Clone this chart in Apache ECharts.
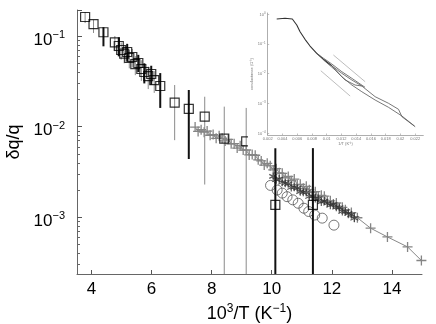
<!DOCTYPE html>
<html>
<head>
<meta charset="utf-8">
<script src="https://cdn.jsdelivr.net/npm/echarts@6/dist/echarts.min.js"></script>
<style>
  html, body { margin: 0; padding: 0; background: #fff; }
  #chart { width: 436px; height: 324px; }
</style>
</head>
<body>
<div id="chart"></div>
<script>
// open squares with error bars (sqDark = 1 -> thick black bar, 0 -> thin grey bar), lo = 0 runs off the axis
var sqX = [3.79, 4.07, 4.40, 4.78, 4.91, 4.99, 5.09, 5.19, 5.26, 5.36, 5.46, 5.56, 5.66, 5.76, 5.89, 5.99, 6.09, 6.29, 6.77, 7.24, 7.77, 8.42, 9.15, 10.12, 11.37];
var sqY = [0.162, 0.1355, 0.110, 0.0852, 0.0776, 0.0701, 0.0641, 0.0666, 0.0572, 0.0587, 0.0491, 0.0504, 0.0433, 0.0401, 0.0362, 0.0381, 0.0327, 0.0281, 0.0184, 0.0157, 0.0129, 0.00738, 0.00687, 0.00137, 0.00137];
var sqLo = [0.139, 0.108, 0.077, 0.068, 0.0597, 0.055, 0.050, 0.052, 0.044, 0.045, 0.037, 0.040, 0.032, 0.030, 0.026, 0.029, 0.0236, 0.0161, 0.0071, 0.0044, 0.0023, 0, 0, 0, 0];
var sqHi = [0.184, 0.151, 0.125, 0.100, 0.0968, 0.085, 0.078, 0.082, 0.070, 0.072, 0.060, 0.062, 0.054, 0.050, 0.046, 0.047, 0.041, 0.039, 0.0288, 0.0254, 0.0214, 0.01663, 0.0161, 0.00578, 0.0058];
var sqDark = [0, 0, 1, 0, 1, 0, 0, 1, 0, 0, 0, 1, 0, 1, 0, 1, 0, 1, 0, 1, 0, 0, 0, 1, 1];

// grey crosses (dense band + sparse tail joined by a line)
var crossX = [7.45, 7.55, 7.65, 7.75, 7.85, 7.95, 8.05, 8.15, 8.25, 8.35, 8.45, 8.55, 8.65, 8.75, 8.85, 8.95, 9.05, 9.15, 9.25, 9.35, 9.45, 9.55, 9.65, 9.75, 9.85, 9.95,
  10.05, 10.15, 10.25, 10.35, 10.45, 10.55, 10.65, 10.75, 10.85, 10.95, 11.05, 11.15, 11.25, 11.35, 11.45, 11.55, 11.65, 11.75, 11.85, 11.95,
  12.05, 12.15, 12.25, 12.35, 12.45, 12.55, 12.65, 12.75, 12.85, 13.29, 13.85, 14.52, 14.98];
var crossY = [0.00989, 0.00887, 0.00925, 0.00869, 0.00895, 0.00804, 0.00818, 0.00743, 0.00793, 0.00745, 0.00697, 0.00724, 0.00647, 0.00650, 0.00581, 0.00618, 0.00552, 0.00553, 0.00488, 0.00492, 0.00484, 0.00431, 0.00419, 0.00377, 0.00394, 0.00370,
  0.00333, 0.00344, 0.00310, 0.00306, 0.00273, 0.00282, 0.00254, 0.00264, 0.00230, 0.00231, 0.00209, 0.00220, 0.00202, 0.00189, 0.00192, 0.00168, 0.00175, 0.00171, 0.00151, 0.00152,
  0.00140, 0.00144, 0.00126, 0.00129, 0.00121, 0.00111, 0.00113, 0.00101, 0.000989, 0.000759, 0.000608, 0.000472, 0.000334];

// dark asterisks
var starX = [10.05, 10.15, 10.25, 10.35, 10.45, 10.55, 10.65, 10.75, 10.85, 10.95, 11.05, 11.15, 11.25, 11.35, 11.45, 11.55, 11.65, 11.75, 11.85, 11.95, 12.05, 12.15, 12.25, 12.35, 12.45, 12.55, 12.65, 12.75];
var starY = [0.00283, 0.00260, 0.00265, 0.00244, 0.00238, 0.00234, 0.00213, 0.00215, 0.00210, 0.00192, 0.00189, 0.00188, 0.00170, 0.00171, 0.00161, 0.00161, 0.00148, 0.00151, 0.00143, 0.00136, 0.00139, 0.00129, 0.00128, 0.00116, 0.00116, 0.00110, 0.00107, 0.000979];

// open circles
var cirX = [9.96, 10.18, 10.35, 10.51, 10.70, 10.88, 11.07, 11.23, 11.43, 11.68, 12.07];
var cirY = [0.00225, 0.00200, 0.00185, 0.00169, 0.00156, 0.00143, 0.00126, 0.00116, 0.00106, 0.00098, 0.00082];

// axis ticks
var xTicks = [4, 6, 8, 10, 12, 14];
var yTickExp = [-3, -2, -1];

// inset: conductance vs 1/T
var insTrunkX = [0.00322, 0.00435, 0.00534, 0.00561, 0.00594, 0.00639, 0.00706, 0.00774, 0.00865, 0.00955, 0.01069];
var insTrunkY = [0.679, 0.718, 0.679, 0.596, 0.428, 0.255, 0.1416, 0.0843, 0.0480, 0.0302, 0.0184];
var insAX = [0.01069, 0.01205, 0.01341, 0.01476, 0.01657, 0.01838, 0.01974, 0.0202, 0.0220];
var insAY = [0.0184, 0.01023, 0.00610, 0.00384, 0.00168, 0.00101, 0.000634, 0.000358, 0.000165];
var insBX = [0.01069, 0.01205, 0.01341, 0.01476, 0.01657, 0.01838, 0.0202, 0.0219];
var insBY = [0.0184, 0.00787, 0.00414, 0.00247, 0.00130, 0.000740, 0.000378, 0.000175];
var insCX = [0.00865, 0.00955, 0.01069, 0.01205, 0.01341, 0.0152];
var insCY = [0.0480, 0.0330, 0.0210, 0.01159, 0.00695, 0.00347];
var insDX = [0.00955, 0.01114, 0.0125, 0.01385, 0.01476];
var insDY = [0.0290, 0.01321, 0.00610, 0.00414, 0.00384];
var guide1X = [0.01091, 0.01521];
var guide1Y = [0.0421, 0.00535];
var guide2X = [0.0092, 0.01318];
var guide2Y = [0.0125, 0.00177];
var insXTicks = [0.002, 0.004, 0.006, 0.008, 0.01, 0.012, 0.014, 0.016, 0.018, 0.02, 0.022];
var insYTickExp = [-4, -3, -2, -1, 0];

var FONT = '"Liberation Sans", Arial, Helvetica, sans-serif';
var yMin = -3.625, yMax = -0.713;
var xMin = 3.52, xMax = 15.0;

function pairs(xs, ys) {
  return xs.map(function (x, i) { return [x, Math.log10(ys[i])]; });
}

// log minor ticks 2..9 of each decade
var minorY = [];
for (var e = -4; e <= -1; e++) {
  for (var k = 2; k <= 9; k++) {
    var t = e + Math.log10(k);
    if (t > yMin && t < yMax) minorY.push(t);
  }
}

var barData = sqX.map(function (x, i) {
  var lo = sqLo[i] > 0 ? Math.log10(sqLo[i]) : yMin - 0.5;
  return [x, lo, Math.log10(sqHi[i]), sqDark[i]];
});

var supRich = {
  b: { fontSize: 17, fontFamily: FONT, color: '#000', lineHeight: 19, verticalAlign: 'bottom' },
  s: { fontSize: 11, fontFamily: FONT, color: '#000', lineHeight: 11, verticalAlign: 'top' }
};
var tinyRich = {
  b: { fontSize: 4, fontFamily: FONT, color: '#777', lineHeight: 5, verticalAlign: 'bottom' },
  s: { fontSize: 3, fontFamily: FONT, color: '#777', lineHeight: 3, verticalAlign: 'top' }
};

var PLUS = 'path://M0,5L10,5M5,0L5,10';
var STAR = 'path://M5,0L5,10M0.67,2.5L9.33,7.5M0.67,7.5L9.33,2.5';

var insLine = function (xs, ys, color, w) {
  return {
    type: 'line', xAxisIndex: 1, yAxisIndex: 2, data: pairs(xs, ys),
    showSymbol: false, symbol: 'none', z: 12, silent: true,
    lineStyle: { color: color, width: w }
  };
};

var option = {
  animation: false,
  backgroundColor: '#fff',
  grid: [
    { left: 77, right: 14, top: 10, bottom: 50, outerBoundsMode: 'none' },
    { left: 267.7, top: 13, width: 155.6, height: 122, outerBoundsMode: 'none' }
  ],
  graphic: [
    { type: 'rect', shape: { x: 248, y: 0, width: 188, height: 147 }, style: { fill: '#fff' }, z: 10, silent: true }
  ],
  xAxis: [
    {
      gridIndex: 0, type: 'value', min: xMin, max: xMax,
      axisLine: { onZero: false, lineStyle: { color: '#666', width: 1 } },
      axisTick: { inside: true, length: 4, customValues: xTicks, lineStyle: { color: '#555' } },
      axisLabel: { customValues: xTicks, margin: 7, color: '#000', fontSize: 17, fontFamily: FONT },
      splitLine: { show: false },
      name: '{b|10}{s|3}{b|/T (K}{s|\u22121}{b|)}',
      nameLocation: 'middle', nameGap: 24,
      nameTextStyle: { rich: { b: { fontSize: 18, fontFamily: FONT, color: '#000', lineHeight: 20, verticalAlign: 'bottom' }, s: { fontSize: 12, fontFamily: FONT, color: '#000', lineHeight: 12, verticalAlign: 'top' } } }
    },
    {
      gridIndex: 1, type: 'value', min: 0.002, max: 0.0231, z: 11,
      axisLine: { onZero: false, lineStyle: { color: '#999', width: 0.8 } },
      axisTick: { inside: true, length: 1.5, customValues: insXTicks, lineStyle: { color: '#999', width: 0.6 } },
      axisLabel: {
        customValues: insXTicks, margin: 1.5, color: '#777', fontSize: 4, fontFamily: FONT,
        formatter: function (v) { return String(+v.toFixed(3)); }
      },
      splitLine: { show: false },
      name: '1/T (K\u207b\u00b9)', nameLocation: 'middle', nameGap: 6,
      nameTextStyle: { fontSize: 4, color: '#777', fontFamily: FONT }
    }
  ],
  yAxis: [
    {
      gridIndex: 0, type: 'value', position: 'left', min: yMin, max: yMax,
      axisLine: { onZero: false, lineStyle: { color: '#666', width: 1 } },
      axisTick: { inside: true, length: 5, customValues: yTickExp.concat([yMax]), lineStyle: { color: '#555' } },
      axisLabel: {
        customValues: yTickExp, margin: 12, padding: [6, 0, 0, 0],
        formatter: function (v) { return '{b|10}{s|\u2212' + Math.abs(Math.round(v)) + '}'; },
        rich: supRich
      },
      splitLine: { show: false },
      name: '\u03b4q/q', nameLocation: 'middle', nameGap: 52, nameRotate: 90,
      nameTextStyle: { fontSize: 18, fontFamily: FONT, color: '#000' }
    },
    {
      gridIndex: 0, type: 'value', position: 'left', offset: 0, min: yMin, max: yMax,
      axisLine: { show: false, onZero: false },
      axisTick: { inside: true, length: 3, customValues: minorY, lineStyle: { color: '#666' } },
      axisLabel: { show: false },
      splitLine: { show: false }
    },
    {
      gridIndex: 1, type: 'value', position: 'left', min: -4.06, max: 0.034, z: 11,
      axisLine: { onZero: false, lineStyle: { color: '#999', width: 0.8 } },
      axisTick: { inside: true, length: 1.5, customValues: insYTickExp, lineStyle: { color: '#999', width: 0.6 } },
      axisLabel: {
        customValues: insYTickExp, margin: 2,
        formatter: function (v) { return '{b|10}{s|' + (v < 0 ? '\u2212' + Math.abs(Math.round(v)) : '0') + '}'; },
        rich: tinyRich
      },
      splitLine: { show: false },
      name: 'conductance (\u03a9\u207b\u00b9)', nameLocation: 'middle', nameGap: 9, nameRotate: 90,
      nameTextStyle: { fontSize: 4, color: '#777', fontFamily: FONT }
    }
  ],
  series: [
    {
      type: 'line', xAxisIndex: 0, yAxisIndex: 0, data: pairs(crossX, crossY),
      symbol: PLUS, symbolSize: 10, showAllSymbol: true, z: 2, silent: true,
      lineStyle: { color: '#888', width: 1 },
      itemStyle: { color: 'rgba(0,0,0,0)', borderColor: '#858585', borderWidth: 1.3 }
    },
    {
      type: 'scatter', xAxisIndex: 0, yAxisIndex: 0, data: pairs(starX, starY),
      symbol: STAR, symbolSize: 8, z: 3, silent: true,
      itemStyle: { color: 'rgba(0,0,0,0)', borderColor: '#333', borderWidth: 1.2 }
    },
    {
      type: 'scatter', xAxisIndex: 0, yAxisIndex: 0, data: pairs(cirX, cirY),
      symbol: 'circle', symbolSize: 10, z: 4, silent: true,
      itemStyle: { color: 'rgba(0,0,0,0)', borderColor: '#555', borderWidth: 1 }
    },
    {
      type: 'custom', xAxisIndex: 0, yAxisIndex: 0, data: barData, clip: true, z: 5, silent: true,
      renderItem: function (params, api) {
        var p1 = api.coord([api.value(0), api.value(1)]);
        var p2 = api.coord([api.value(0), api.value(2)]);
        var dark = api.value(3) === 1;
        return {
          type: 'line',
          shape: { x1: p1[0], y1: p1[1], x2: p2[0], y2: p2[1] },
          style: { stroke: dark ? '#111' : '#8a8a8a', lineWidth: dark ? 2 : 1 }
        };
      }
    },
    {
      type: 'scatter', xAxisIndex: 0, yAxisIndex: 0, data: pairs(sqX, sqY),
      symbol: 'rect', symbolSize: 9, z: 6, silent: true,
      itemStyle: { color: 'rgba(0,0,0,0)', borderColor: '#000', borderWidth: 1.2 }
    },
    insLine(guide1X, guide1Y, '#b5b5b5', 0.9),
    insLine(guide2X, guide2Y, '#b5b5b5', 0.9),
    insLine(insTrunkX, insTrunkY, '#333', 1.1),
    insLine(insAX, insAY, '#555', 0.8),
    insLine(insBX, insBY, '#555', 0.8),
    insLine(insCX, insCY, '#555', 0.8),
    insLine(insDX, insDY, '#555', 0.8)
  ]
};

var chart = echarts.init(document.getElementById('chart'));
chart.setOption(option);
</script>
</body>
</html>
